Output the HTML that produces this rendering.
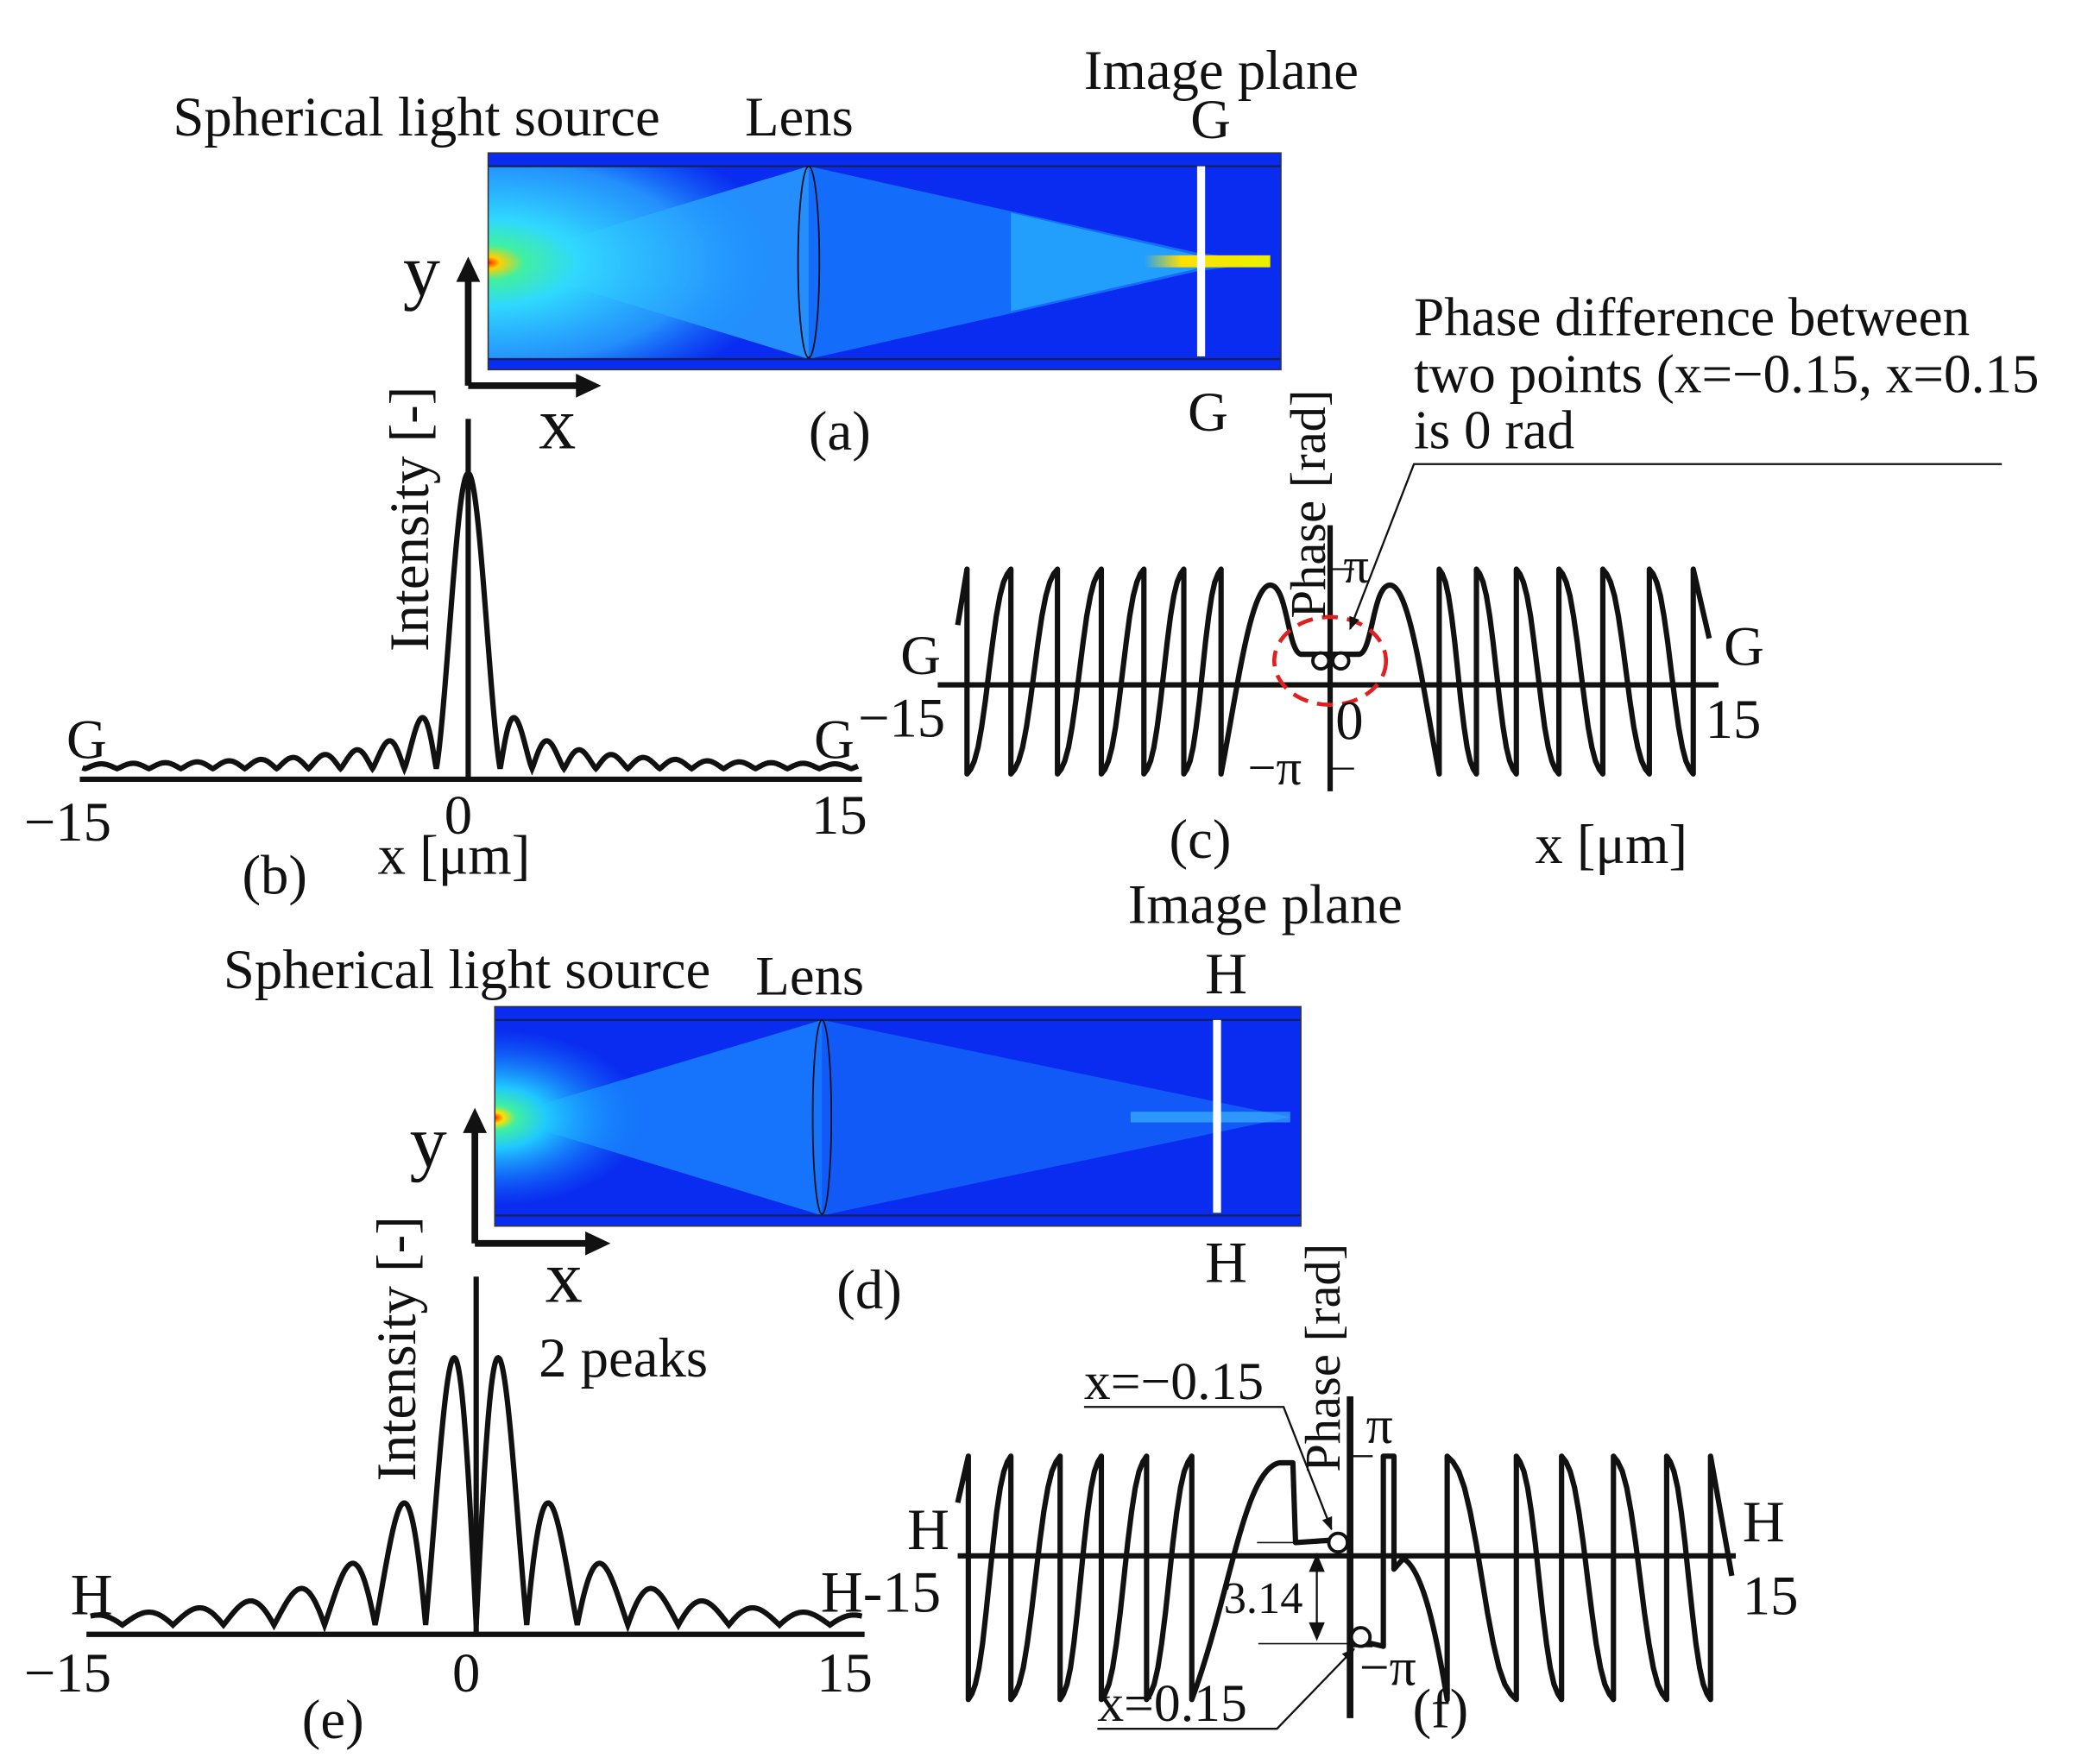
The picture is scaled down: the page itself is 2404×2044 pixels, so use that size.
<!DOCTYPE html>
<html><head><meta charset="utf-8"><style>
html,body{margin:0;padding:0;background:#fff;}
svg{display:block;}
text{font-family:"Liberation Serif",serif;fill:#111;}
</style></head><body>
<svg id="s" width="2404" height="2044" viewBox="0 0 1560 1326.5" preserveAspectRatio="none" xmlns="http://www.w3.org/2000/svg">
<defs>
<radialGradient id="srcA" cx="0" cy="0.5" r="0.75" fx="0" fy="0.5">
<stop offset="0" stop-color="#ff2000"/><stop offset="0.04" stop-color="#ffd000"/><stop offset="0.12" stop-color="#40f0a0"/><stop offset="0.3" stop-color="#30d8ff"/><stop offset="0.7" stop-color="#2aa8ff" stop-opacity="0.8"/><stop offset="1" stop-color="#1890ff" stop-opacity="0"/>
</radialGradient>
<radialGradient id="srcD" cx="0" cy="0.5" r="0.45" fx="0" fy="0.5">
<stop offset="0" stop-color="#ff2000"/><stop offset="0.06" stop-color="#ffe000"/><stop offset="0.14" stop-color="#40f0a0"/><stop offset="0.35" stop-color="#20c8ff"/><stop offset="1" stop-color="#1480ff" stop-opacity="0"/>
</radialGradient>
<linearGradient id="yel" x1="0" x2="1"><stop offset="0" stop-color="#ffe000" stop-opacity="0"/><stop offset="0.3" stop-color="#ffe000"/><stop offset="1" stop-color="#e8f000"/></linearGradient>
<marker id="ar" markerWidth="10" markerHeight="10" refX="9" refY="5" orient="auto" markerUnits="userSpaceOnUse"><path d="M0,1 L10,5 L0,9z" fill="#111"/></marker>
</defs>

<!-- panel a -->
<rect x="367" y="115" width="596" height="163" fill="#0a2cf0"/>
<path d="M370,197 L608,125 L608,270Z" fill="#2aa8ff" opacity="0.8"/>
<path d="M608,125 L900,190 L955,197 L900,204 L608,270Z" fill="#1a90ff" opacity="0.65"/>
<path d="M760,160 L900,192 L955,197 L900,202 L760,234Z" fill="#30d0ff" opacity="0.5"/>
<rect x="367" y="125" width="300" height="145" fill="url(#srcA)"/>
<rect x="860" y="192" width="95" height="9" fill="url(#yel)"/>
<line x1="367" y1="125" x2="963" y2="125" stroke="#102060" stroke-width="1.5"/>
<line x1="367" y1="270" x2="963" y2="270" stroke="#102060" stroke-width="1.5"/>
<ellipse cx="608" cy="197" rx="8" ry="72" fill="none" stroke="#112" stroke-width="1.2"/>
<rect x="900" y="125" width="6" height="143" fill="#fff"/>
<rect x="367" y="115" width="596" height="163" fill="none" stroke="#333" stroke-width="1"/>

<text x="130" y="102" font-size="42">Spherical light source</text>
<text x="560" y="102" font-size="42">Lens</text>
<text x="815" y="67" font-size="42">Image plane</text>
<text x="895" y="104" font-size="42">G</text>
<text x="303" y="222" font-size="56">y</text>
<text x="405" y="337" font-size="56">x</text>
<text x="608" y="338" font-size="42">(a)</text>
<text x="893" y="324" font-size="42">G</text>
<path d="M352,290 V210" stroke="#111" stroke-width="5" fill="none"/><path d="M343,212 L352,193 L361,212Z" fill="#111"/>
<path d="M352,290 H435" stroke="#111" stroke-width="5" fill="none"/><path d="M433,281 L452,290 L433,299Z" fill="#111"/>

<!-- panel b -->
<line x1="60" y1="586" x2="648" y2="586" stroke="#111" stroke-width="4"/>
<line x1="352" y1="315" x2="352" y2="586" stroke="#111" stroke-width="4"/>
<path id="pb" fill="none" stroke="#111" stroke-width="4"/>
<text transform="translate(322,490) rotate(-90)" font-size="42">Intensity [-]</text>
<text x="50" y="570" font-size="42">G</text>
<text x="612" y="570" font-size="42">G</text>
<text x="18" y="632" font-size="42">−15</text>
<text x="334" y="627" font-size="42">0</text>
<text x="610" y="627" font-size="42">15</text>
<text x="284" y="657" font-size="42">x [μm]</text>
<text x="182" y="672" font-size="42">(b)</text>

<!-- panel c -->
<line x1="705" y1="515" x2="1292" y2="515" stroke="#111" stroke-width="4"/>
<line x1="1000" y1="395" x2="1000" y2="595" stroke="#111" stroke-width="4"/>
<line x1="1000" y1="428" x2="1018" y2="428" stroke="#111" stroke-width="1.5"/>
<line x1="1000" y1="578" x2="1018" y2="578" stroke="#111" stroke-width="1.5"/>
<path id="pc" fill="none" stroke="#111" stroke-width="4" stroke-linejoin="round"/>
<ellipse cx="1000" cy="497" rx="42" ry="33" fill="none" stroke="#e02020" stroke-width="3" stroke-dasharray="12,7"/>
<circle cx="993" cy="497" r="6" fill="#fff" stroke="#111" stroke-width="2.5"/>
<circle cx="1008" cy="497" r="6" fill="#fff" stroke="#111" stroke-width="2.5"/>
<text transform="translate(996,465) rotate(-90)" font-size="38">Phase [rad]</text>
<text x="1010" y="438" font-size="38">π</text>
<text x="938" y="590" font-size="38">−π</text>
<text x="677" y="507" font-size="42">G</text>
<text x="645" y="554" font-size="42">−15</text>
<text x="1004" y="556" font-size="42">0</text>
<text x="1282" y="555" font-size="42">15</text>
<text x="1296" y="500" font-size="42">G</text>
<text x="879" y="645" font-size="42">(c)</text>
<text x="1154" y="649" font-size="42">x [μm]</text>
<text x="1063" y="252" font-size="41">Phase difference between</text>
<text x="1063" y="295" font-size="41">two points (x=−0.15, x=0.15</text>
<text x="1063" y="337" font-size="41">is 0 rad</text>
<polyline points="1505,349 1063,349 1015,473" fill="none" stroke="#111" stroke-width="1.5" marker-end="url(#ar)"/>

<!-- panel d -->
<rect x="372" y="757" width="606" height="165" fill="#0a2cf0"/>
<path d="M375,840 L618,767 L618,914Z" fill="#1a8cff" opacity="0.75"/>
<path d="M618,767 L970,840 L618,914Z" fill="#1a88ff" opacity="0.5"/>
<rect x="372" y="767" width="250" height="147" fill="url(#srcD)"/>
<rect x="850" y="836" width="120" height="8" fill="#40c0ff" opacity="0.6"/>
<line x1="372" y1="767" x2="978" y2="767" stroke="#102060" stroke-width="1.5"/>
<line x1="372" y1="914" x2="978" y2="914" stroke="#102060" stroke-width="1.5"/>
<ellipse cx="618" cy="840" rx="7" ry="73" fill="none" stroke="#112" stroke-width="1.2"/>
<rect x="912" y="767" width="6" height="145" fill="#fff"/>
<rect x="372" y="757" width="606" height="165" fill="none" stroke="#333" stroke-width="1"/>
<text x="168" y="743" font-size="42">Spherical light source</text>
<text x="568" y="748" font-size="42">Lens</text>
<text x="848" y="694" font-size="42">Image plane</text>
<text x="906" y="747" font-size="44">H</text>
<text x="308" y="877" font-size="56">y</text>
<text x="410" y="979" font-size="56">x</text>
<text x="629" y="984" font-size="42">(d)</text>
<text x="906" y="964" font-size="44">H</text>
<path d="M357,935 V850" stroke="#111" stroke-width="5" fill="none"/><path d="M348,852 L357,833 L366,852Z" fill="#111"/>
<path d="M357,935 H442" stroke="#111" stroke-width="5" fill="none"/><path d="M440,926 L459,935 L440,944Z" fill="#111"/>

<!-- panel e -->
<line x1="65" y1="1229" x2="650" y2="1229" stroke="#111" stroke-width="4"/>
<line x1="358" y1="960" x2="358" y2="1229" stroke="#111" stroke-width="4"/>
<path id="pe" fill="none" stroke="#111" stroke-width="4"/>
<text transform="translate(312,1114) rotate(-90)" font-size="42">Intensity [-]</text>
<text x="405" y="1035" font-size="42">2 peaks</text>
<text x="53" y="1214" font-size="44">H</text>
<text x="617" y="1212" font-size="44">H-15</text>
<text x="18" y="1272" font-size="42">−15</text>
<text x="340" y="1272" font-size="42">0</text>
<text x="614" y="1272" font-size="42">15</text>
<text x="227" y="1307" font-size="42">(e)</text>

<!-- panel f -->
<line x1="720" y1="1170" x2="1305" y2="1170" stroke="#111" stroke-width="4"/>
<line x1="1015" y1="1050" x2="1015" y2="1292" stroke="#111" stroke-width="5"/>
<line x1="1015" y1="1095" x2="1032" y2="1095" stroke="#111" stroke-width="1.5"/>
<line x1="1015" y1="1238" x2="1032" y2="1238" stroke="#111" stroke-width="1.5"/>
<path id="pf" fill="none" stroke="#111" stroke-width="4" stroke-linejoin="round"/>
<circle cx="1006" cy="1160" r="7" fill="#fff" stroke="#111" stroke-width="2.5"/>
<circle cx="1023" cy="1231" r="7" fill="#fff" stroke="#111" stroke-width="2.5"/>
<text transform="translate(1007,1107) rotate(-90)" font-size="38">Phase [rad]</text>
<text x="1027" y="1085" font-size="40">π</text>
<text x="1022" y="1267" font-size="40">−π</text>
<text x="682" y="1165" font-size="44">H</text>
<text x="1310" y="1159" font-size="44">H</text>
<text x="1310" y="1214" font-size="42">15</text>
<text x="1062" y="1299" font-size="42">(f)</text>
<text x="815" y="1052" font-size="40">x=−0.15</text>
<polyline points="815,1058 965,1058 1001,1150" fill="none" stroke="#111" stroke-width="1.5" marker-end="url(#ar)"/>
<text x="825" y="1294" font-size="40">x=0.15</text>
<polyline points="825,1300 960,1300 1018,1240" fill="none" stroke="#111" stroke-width="1.5" marker-end="url(#ar)"/>
<line x1="945" y1="1160" x2="1000" y2="1160" stroke="#111" stroke-width="1"/>
<line x1="946" y1="1236" x2="1015" y2="1236" stroke="#111" stroke-width="1"/>
<line x1="990" y1="1168" x2="990" y2="1230" stroke="#111" stroke-width="1.5"/>
<path d="M984,1182 L990,1168 L996,1182Z M984,1220 L990,1234 L996,1220Z" fill="#111"/>
<text x="920" y="1213" font-size="34">3.14</text>
</svg>
<script>
function sinc(u){return Math.abs(u)<1e-6?1:Math.sin(u)/u;}
let d="";
for(let x=62;x<=645;x+=0.5){let u=Math.PI*(x-352)/24;let f=Math.pow(Math.abs(sinc(u)),1.15);let y=578-222*f;d+=(d?"L":"M")+x.toFixed(1)+","+y.toFixed(1);}
document.getElementById("pb").setAttribute("d",d);
d="";
for(let x=68;x<=648;x+=0.5){let dd=Math.abs(x-358);let f=Math.abs(Math.sin(Math.PI*dd/38))*1.2/(1+Math.pow(dd/42,1.8));let y=1222-203*f;d+=(d?"L":"M")+x.toFixed(1)+","+y.toFixed(1);}
document.getElementById("pe").setAttribute("d",d);
function rise(x0,x1,yb,yt){let s="";for(let i=1;i<=12;i++){let t=i/12;let e=t-0.12*Math.sin(2*Math.PI*t);s+="L"+(x0+(x1-x0)*t).toFixed(1)+","+(yb+(yt-yb)*e).toFixed(1);}return s;}
{let T=428,B=582;let L=[727,760,795,828,860,890,918];let s="M720,470"+"L727,"+T;
for(let i=0;i<L.length;i++){s+="L"+L[i]+","+B;if(i<L.length-1)s+=rise(L[i],L[i+1],B,T)+"L"+L[i+1]+","+T;}
s+="C930,520 940,440 955,440 C968,440 968,490 978,492 L1022,492 C1032,490 1032,440 1045,440 C1060,440 1070,520 1082,"+B+"L1082,"+T;
let R=[1082,1110,1140,1172,1205,1240,1273];
for(let i=0;i<R.length-1;i++){s+=rise(R[i],R[i+1],T,B)+"L"+R[i+1]+","+T;}
s+="L1285,480";document.getElementById("pc").setAttribute("d",s);}
{let T=1095,B=1278;let L=[728,760,797,828,862,896];let s="M720,1130L728,"+T;
for(let i=0;i<L.length;i++){s+="L"+L[i]+","+B;if(i<L.length-1)s+=rise(L[i],L[i+1],B,T)+"L"+L[i+1]+","+T;}
s+="C925,1200 935,1105 962,1100 L972,1100 L974,1160 L1003,1158";
s+="M1023,1234 L1040,1238 L1040,"+T+" L1048,"+T+" L1048,1180 L1055,1172 C1070,1180 1080,1230 1088,"+B+"L1088,"+T;
let R=[1088,1140,1174,1213,1253,1286];
for(let i=0;i<R.length-1;i++){s+=rise(R[i],R[i+1],T,B)+"L"+R[i+1]+","+T;}
s+="L1302,1185";document.getElementById("pf").setAttribute("d",s);}
</script>
</body></html>
